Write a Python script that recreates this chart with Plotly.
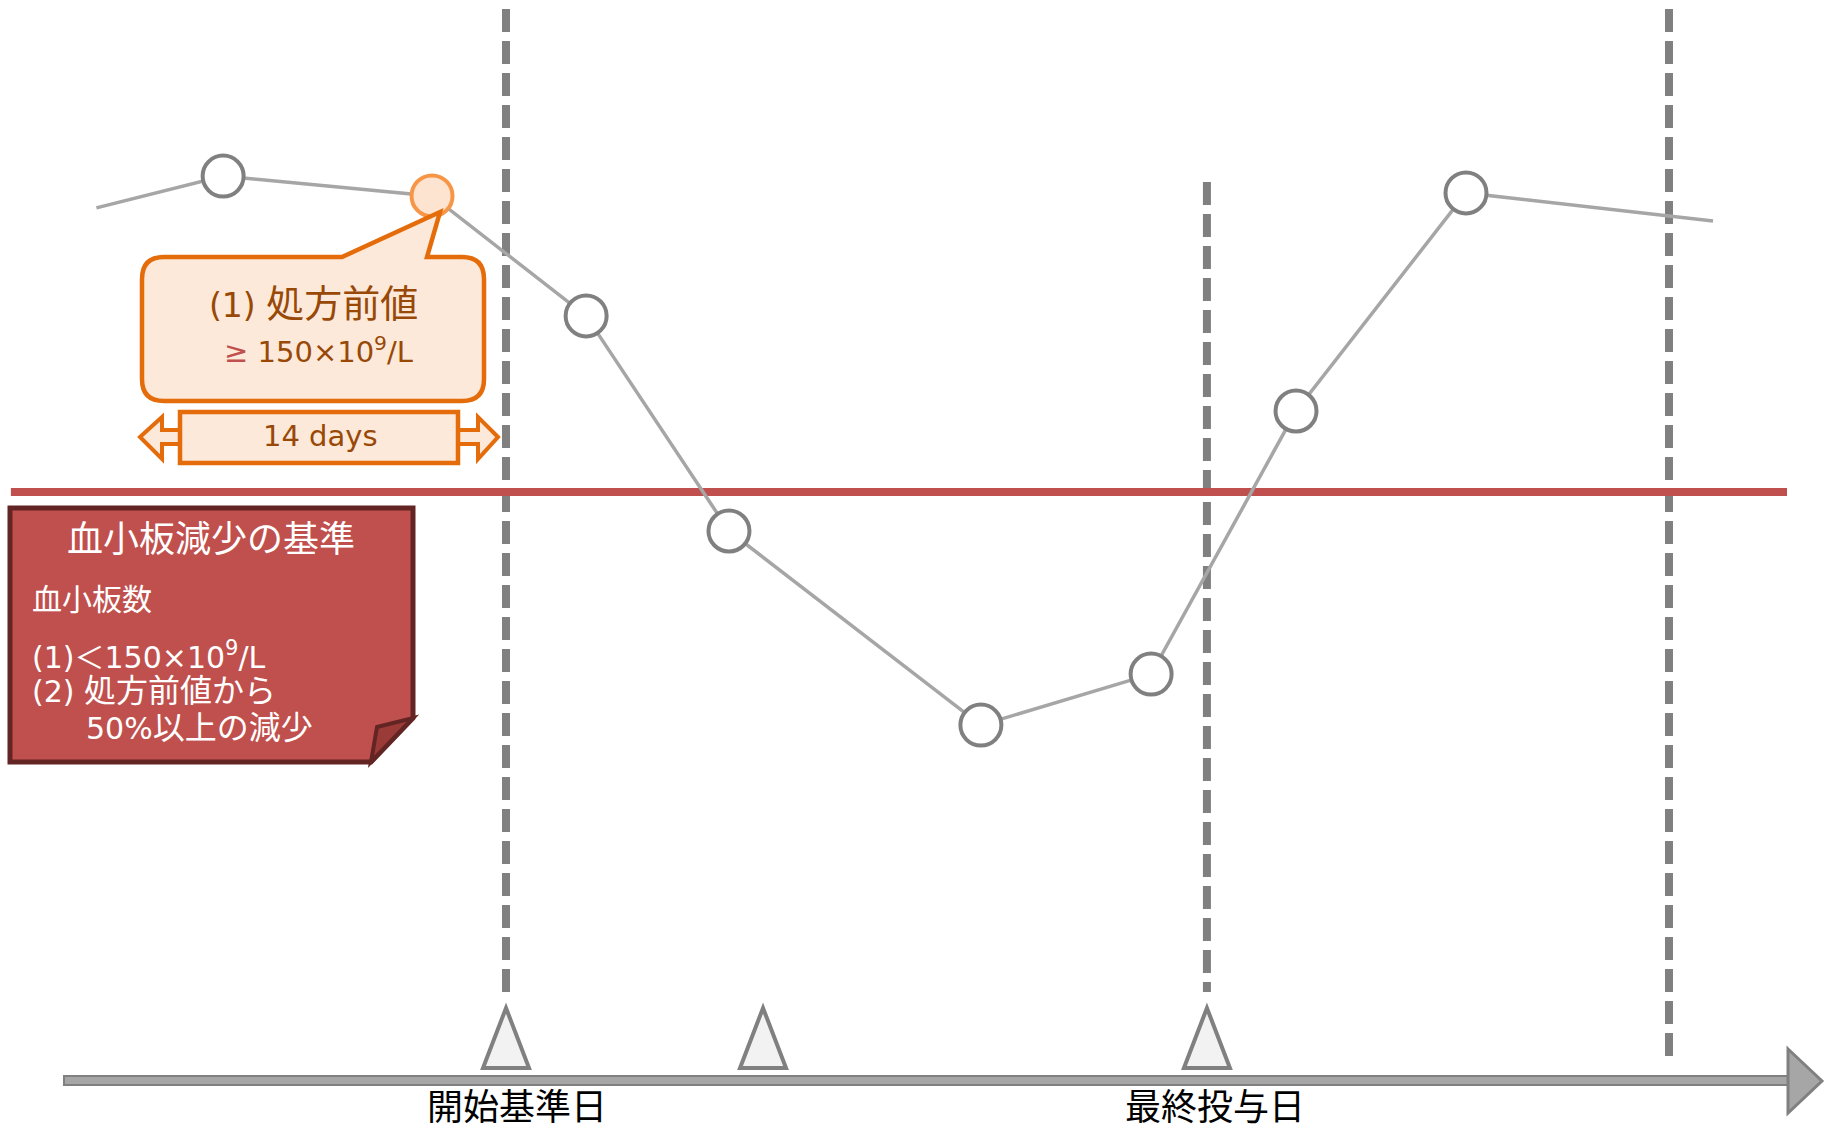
import plotly.graph_objects as go

# ---------------- data ----------------
# platelet count course (x: day relative to start reference day, y: platelets ×10^9/L)
line_days = [-16.0, -11.05, -2.89, 3.13, 8.71, 18.55, 25.2, 30.86, 37.5, 47.15]
line_vals = [244.7, 255.3, 248.7, 208.7, 137.0, 72.3, 89.3, 177.0, 249.7, 240.3]
point_days = [-11.05, -2.89, 3.13, 8.71, 18.55, 25.2, 30.86, 37.5]
point_vals = [255.3, 248.7, 208.7, 137.0, 72.3, 89.3, 177.0, 249.7]
baseline_index = 1  # 処方前値 (pre-prescription value)

threshold = 150
threshold_days = [-19.34, 50.04]

# reference days (dashed verticals)
vline_days = [0.0, 27.38, 45.43]
vline_tops = [311.0, 253.3, 311.0]
vline_bottoms = [-16.7, -16.7, -41.0]

# event markers (triangles) and labels
event_days = [0.0, 10.04, 27.38]
event_base = -42.0
axis_labels = ["開始基準日", "最終投与日"]
axis_label_days = [0.43, 27.68]

# ---------------- layout constants ----------------
W, H = 1831, 1132
X_RANGE = [-19.766, 51.758]
Y_RANGE = [-63.33, 314.0]


def px(x):
    return x / W


def py(y):
    return 1 - y / H


def path(segments, close=True):
    parts = []
    for cmd, pts in segments:
        if cmd == "Q":
            parts.append("Q " + " ".join(f"{px(a):.5f},{py(b):.5f}" for a, b in pts))
        else:
            for a, b in pts:
                parts.append(f"{cmd} {px(a):.5f},{py(b):.5f}")
    s = " ".join(parts)
    if close:
        s += " Z"
    return s


FONT = "DejaVu Sans, Noto Sans CJK JP, sans-serif"
CJK = "Noto Sans CJK JP, sans-serif"
ORANGE = "#E46C0A"
PEACH = "#FDE9D9"
BROWN = "#984807"
RED = "#C0504D"
DARKRED = "#632523"
GRAY = "#808080"
LGRAY = "#A6A6A6"

fig = go.Figure()

# dashed vertical reference lines
for d, t, b in zip(vline_days, vline_tops, vline_bottoms):
    fig.add_trace(go.Scatter(x=[d, d], y=[t, b], mode="lines",
                             line=dict(color=GRAY, width=8, dash="23px,9px"),
                             hoverinfo="skip", showlegend=False))

# threshold line
fig.add_trace(go.Scatter(x=threshold_days, y=[threshold, threshold], mode="lines",
                         line=dict(color=RED, width=8), hoverinfo="skip", showlegend=False))

# platelet course
fig.add_trace(go.Scatter(x=line_days, y=line_vals, mode="lines",
                         line=dict(color=LGRAY, width=3.5), hoverinfo="skip", showlegend=False))

fills = ["#FFFFFF"] * len(point_days)
edges = [GRAY] * len(point_days)
fills[baseline_index] = "#FDE4D0"
edges[baseline_index] = "#F79646"
fig.add_trace(go.Scatter(x=point_days, y=point_vals, mode="markers",
                         marker=dict(size=41, color=fills, line=dict(color=edges, width=4)),
                         hoverinfo="skip", showlegend=False))

shapes = []

# triangles at event days (pixel-sized, anchored to data)
for d in event_days:
    shapes.append(dict(type="path", xref="x", yref="y", xsizemode="pixel", ysizemode="pixel",
                       xanchor=d, yanchor=event_base, path="M -23,0 L 0,60 L 23,0 Z",
                       fillcolor="#F2F2F2", line=dict(color=GRAY, width=4), layer="above"))

# time axis arrow
shapes.append(dict(type="path", xref="paper", yref="paper",
                   path=path([("M", [(64, 1076)]), ("L", [(1790, 1076), (1790, 1085), (64, 1085)])]),
                   fillcolor=LGRAY, line=dict(color=GRAY, width=2), layer="above"))
shapes.append(dict(type="path", xref="paper", yref="paper",
                   path=path([("M", [(1788, 1049)]), ("L", [(1822, 1081), (1788, 1113)])]),
                   fillcolor=LGRAY, line=dict(color=GRAY, width=3), layer="above"))

# orange callout with pointer
x0, x1, y0, y1, r = 142, 484, 257, 401, 22
shapes.append(dict(type="path", xref="paper", yref="paper",
                   path=path([
                       ("M", [(x0 + r, y0)]),
                       ("L", [(342, y0), (440, 212), (427, y0), (x1 - r, y0)]),
                       ("Q", [(x1, y0), (x1, y0 + r)]),
                       ("L", [(x1, y1 - r)]),
                       ("Q", [(x1, y1), (x1 - r, y1)]),
                       ("L", [(x0 + r, y1)]),
                       ("Q", [(x0, y1), (x0, y1 - r)]),
                       ("L", [(x0, y0 + r)]),
                       ("Q", [(x0, y0), (x0 + r, y0)]),
                   ]),
                   fillcolor=PEACH, line=dict(color=ORANGE, width=4.5), layer="above"))

# 14 days double arrow
shapes.append(dict(type="path", xref="paper", yref="paper",
                   path=path([("M", [(140, 437)]),
                              ("L", [(162, 417), (162, 430), (182, 430), (182, 444), (162, 444), (162, 459)])]),
                   fillcolor=PEACH, line=dict(color=ORANGE, width=4), layer="above"))
shapes.append(dict(type="path", xref="paper", yref="paper",
                   path=path([("M", [(498, 437)]),
                              ("L", [(478, 417), (478, 430), (456, 430), (456, 444), (478, 444), (478, 459)])]),
                   fillcolor=PEACH, line=dict(color=ORANGE, width=4), layer="above"))
shapes.append(dict(type="rect", xref="paper", yref="paper",
                   x0=px(180), x1=px(458), y0=py(463), y1=py(412),
                   fillcolor=PEACH, line=dict(color=ORANGE, width=4.5), layer="above"))

# red criteria note with folded corner
shapes.append(dict(type="path", xref="paper", yref="paper",
                   path=path([("M", [(10, 508)]),
                              ("L", [(413, 508), (413, 718), (371, 762), (10, 762)])]),
                   fillcolor=RED, line=dict(color=DARKRED, width=5), layer="above"))
shapes.append(dict(type="path", xref="paper", yref="paper",
                   path=path([("M", [(377, 727)]), ("L", [(413, 718), (371, 762)])]),
                   fillcolor="#9B3B38", line=dict(color=DARKRED, width=4), layer="above"))

annotations = []


def ann(text, x, y, size, color, xanchor="center", family=FONT, yanchor="middle"):
    annotations.append(dict(text=text, x=px(x), y=py(y), xref="paper", yref="paper",
                            xanchor=xanchor, yanchor=yanchor, showarrow=False,
                            font=dict(family=family, size=size, color=color)))


# callout text
ann("(1) <span style='font-size:38px'>処方前値</span>", 313, 304, 33, BROWN)
ann(f"<span style='color:{RED}'>≥</span> 150×10<sup>9</sup>/L", 318, 350, 29, BROWN)
ann("14 days", 320, 436, 29, BROWN)

# criteria note text
ann("血小板減少の基準", 211, 536, 36, "#FFFFFF", family=CJK)
ann("血小板数", 30, 597, 30, "#FFFFFF", xanchor="left", family=CJK)
ann("(1)＜150×10<sup>9</sup>/L", 30, 655, 30, "#FFFFFF", xanchor="left")
ann("(2) <span style='font-size:32px'>処方前値から</span>", 30, 691, 30, "#FFFFFF", xanchor="left")
ann("50%<span style='font-size:32px'>以上の減少</span>", 84, 728, 30, "#FFFFFF", xanchor="left")

# axis labels (positioned on the data x axis)
for lab, d in zip(axis_labels, axis_label_days):
    annotations.append(dict(text=lab, x=d, y=py(1132), xref="x", yref="paper",
                            xanchor="center", yanchor="bottom", showarrow=False,
                            font=dict(family=CJK, size=36, color="#000000")))

fig.update_layout(
    width=W, height=H,
    margin=dict(l=0, r=0, t=0, b=0),
    paper_bgcolor="white", plot_bgcolor="white",
    xaxis=dict(range=X_RANGE, visible=False, fixedrange=True),
    yaxis=dict(range=Y_RANGE, visible=False, fixedrange=True),
    shapes=shapes, annotations=annotations,
    hovermode=False, showlegend=False,
)

fig.write_html("out.html")
